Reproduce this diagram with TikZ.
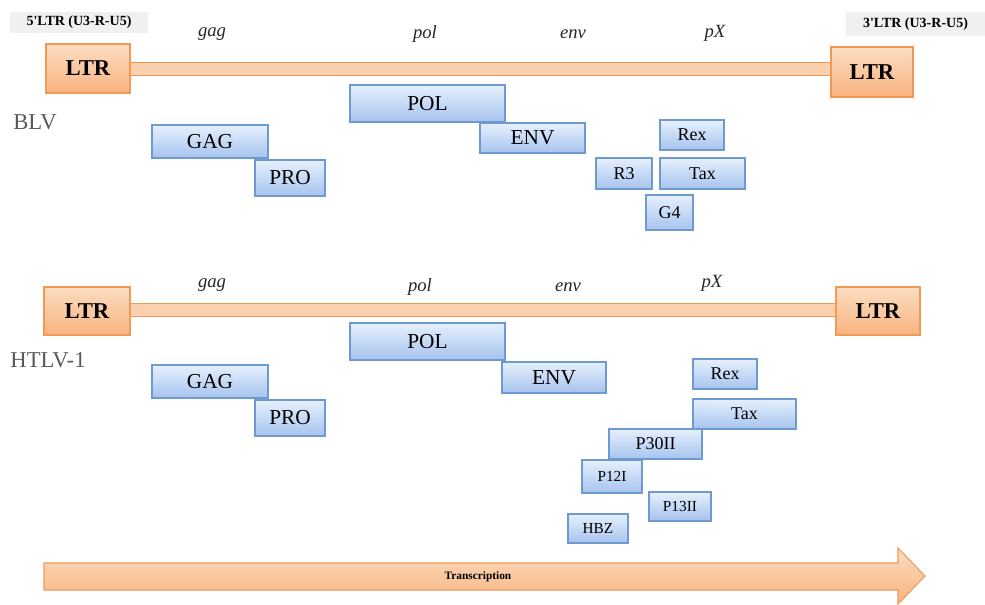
\documentclass[tikz,border=0pt]{standalone}
\usepackage{fontspec}
\setmainfont{Liberation Serif}
\usetikzlibrary{positioning}
\usetikzlibrary{shadows}
\definecolor{ltrtop}{HTML}{FCDDC2}
\definecolor{ltrbot}{HTML}{F8B37F}
\definecolor{ltrline}{HTML}{F09A55}
\definecolor{genetop}{HTML}{E6F0FD}
\definecolor{genebot}{HTML}{A6C3EE}
\definecolor{geneline}{HTML}{6F9AD0}
\tikzset{
    ltrnode/.style = {rectangle, draw=ltrline, thick, top color=ltrtop, bottom color=ltrbot, font=\bfseries\fontsize{17}{17}\selectfont, text=black, inner sep=0pt, drop shadow={opacity=0.25,shadow xshift=1pt,shadow yshift=-1pt}},
    genenode/.style = {rectangle, draw=geneline, thick, top color=genetop, bottom color=genebot, font=\fontsize{16}{16}\selectfont, text=black, inner sep=0pt, drop shadow={opacity=0.25,shadow xshift=1pt,shadow yshift=-1pt}},
    smallgene/.style = {genenode, font=\fontsize{13.5}{13.5}\selectfont},
    tinygene/.style = {genenode, font=\fontsize{11.5}{11.5}\selectfont},
    orfname/.style = {font=\itshape\fontsize{14}{14}\selectfont, text=black!85},
    virusname/.style = {font=\fontsize{17}{17}\selectfont, text=black!65},
    endlabel/.style = {fill=gray!12, font=\bfseries\fontsize{10.5}{10.5}\selectfont, inner sep=0pt},
    genomebar/.style = {draw=ltrline, line width=1pt, double=ltrtop!70!ltrbot, double distance=8.5pt},
    transarrow/.style = {draw=ltrline, thick, top color=ltrtop, bottom color=ltrbot}
}

\begin{document}
\begin{tikzpicture}[x=0.75pt,y=-0.75pt]
\useasboundingbox (0,0) rectangle (985,604);

% end labels
\node[endlabel, minimum width=103.5pt, minimum height=15.75pt] at ( 79.0, 22.5) (lab5) {5\textquotesingle LTR (U3-R-U5)};
\node[endlabel, minimum width=104.25pt, minimum height=18pt] at (915.5, 24.0) (lab3) {3\textquotesingle LTR (U3-R-U5)};

% BLV
\draw[genomebar] (130,69) -- (831,69);
\node[ltrnode, minimum width=63pt, minimum height=36.75pt] at ( 88.0, 68.5) (ltrA) {LTR};
\node[ltrnode, minimum width=61.5pt, minimum height=37.5pt] at (872.0, 72.0) (ltrB) {LTR};

\node[orfname] at (212, 34) (gagA) {gag};
\node[orfname] at (425, 34) (polA) {pol};
\node[orfname] at (573, 34) (envA) {env};
\node[orfname] at (715, 33) (pxA) {pX};
\node[virusname] at (35, 122) (blv) {BLV};

\node[genenode, minimum width=116.25pt, minimum height=27.75pt] at (427.5, 103.5) (polBoxA) {POL};
\node[genenode, minimum width=87pt, minimum height=24.75pt] at (210.0, 141.5) (gagBoxA) {GAG};
\node[genenode, minimum width=78.75pt, minimum height=22.5pt] at (532.5, 138.0) (envBoxA) {ENV};
\node[genenode, minimum width=52.5pt, minimum height=27pt] at (290.0, 178.0) (proBoxA) {PRO};
\node[smallgene, minimum width=48pt, minimum height=22.5pt] at (692.0, 135.0) (rexA) {Rex};
\node[smallgene, minimum width=42pt, minimum height=23.25pt] at (624.0, 173.5) (rthree) {R3};
\node[smallgene, minimum width=63.75pt, minimum height=23.25pt] at (702.5, 173.5) (taxA) {Tax};
\node[smallgene, minimum width=35.25pt, minimum height=26.25pt] at (669.5, 212.5) (gfour) {G4};

% HTLV-1
\draw[genomebar] (130,310) -- (836,310);
\node[ltrnode, minimum width=64.5pt, minimum height=36pt] at ( 87.0, 311.0) (ltrC) {LTR};
\node[ltrnode, minimum width=63pt, minimum height=36pt] at (878.0, 311.0) (ltrD) {LTR};

\node[orfname] at (212, 285) (gagB) {gag};
\node[orfname] at (420, 287) (polB) {pol};
\node[orfname] at (568, 287) (envB) {env};
\node[orfname] at (712, 283) (pxB) {pX};
\node[virusname] at (48, 360) (htlv) {HTLV-1};

\node[genenode, minimum width=116.25pt, minimum height=27.75pt] at (427.5, 341.5) (polBoxB) {POL};
\node[genenode, minimum width=87pt, minimum height=24.75pt] at (210.0, 381.5) (gagBoxB) {GAG};
\node[genenode, minimum width=78pt, minimum height=23.25pt] at (554.0, 377.5) (envBoxB) {ENV};
\node[genenode, minimum width=52.5pt, minimum height=27pt] at (290.0, 418.0) (proBoxB) {PRO};
\node[smallgene, minimum width=48pt, minimum height=22.5pt] at (725.0, 374.0) (rexB) {Rex};
\node[smallgene, minimum width=77.25pt, minimum height=22.5pt] at (744.5, 414.0) (taxB) {Tax};
\node[smallgene, minimum width=69.75pt, minimum height=22.5pt] at (655.5, 444.0) (pthirty) {P30II};
\node[tinygene, minimum width=45pt, minimum height=24.75pt] at (612.0, 476.5) (ptwelve) {P12I};
\node[tinygene, minimum width=46.5pt, minimum height=21.75pt] at (680.0, 506.5) (pthirteen) {P13II};
\node[tinygene, minimum width=45pt, minimum height=21.75pt] at (598.0, 528.5) (hbz) {HBZ};

% transcription
\draw[transarrow] (44,563) -- (898,563) -- (898,548) -- (925,576) -- (898,604) -- (898,590) -- (44,590) -- cycle;
\node[font=\bfseries\fontsize{8.5}{8.5}\selectfont] at (478, 576.5) (trans) {Transcription};

\end{tikzpicture}
\end{document}
